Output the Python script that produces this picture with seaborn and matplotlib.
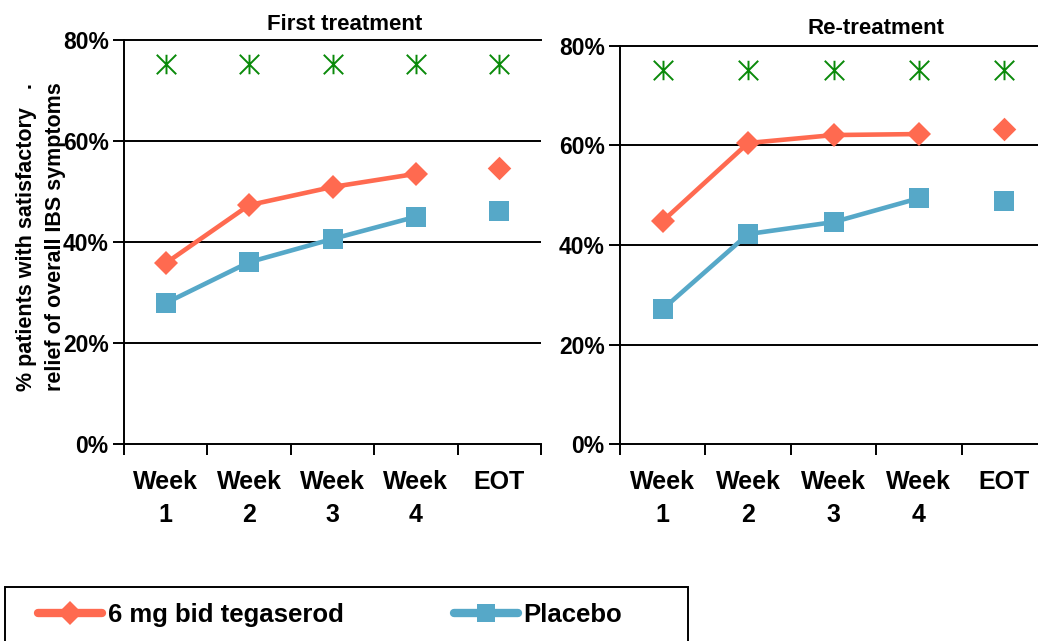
import numpy as np
import pandas as pd
import matplotlib
matplotlib.use("Agg")
import matplotlib.pyplot as plt
import seaborn as sns
from matplotlib.path import Path
from matplotlib.ticker import PercentFormatter
from matplotlib.patches import Rectangle
from matplotlib.lines import Line2D

# values
timepoints = ["Week\n1", "Week\n2", "Week\n3", "Week\n4", "EOT"]
first_tegaserod = [35.8, 47.3, 50.9, 53.5, 54.7]
first_placebo = [27.9, 36.0, 40.6, 45.0, 46.1]
re_tegaserod = [44.8, 60.5, 62.1, 62.3, 63.3]
re_placebo = [27.1, 42.2, 44.6, 49.4, 48.8]
signif_first = [75.2, 75.2, 75.2, 75.2, 75.2]
signif_re = [75.2, 75.2, 75.2, 75.2, 75.2]
titles = ["First treatment", "Re-treatment"]

TEG = "#FF6A50"
PLA = "#56A8C8"
GREEN = "#0A8A0A"

sns.set_style("white")
plt.rcParams['font.family'] = ['Liberation Sans', 'DejaVu Sans']
plt.rcParams['font.weight'] = 'bold'
plt.rcParams['text.color'] = 'black'
plt.rcParams['xtick.color'] = 'black'
plt.rcParams['ytick.color'] = 'black'

star = Path([(0, -1), (0, 1), (-1, -1), (1, 1), (-1, 1), (1, -1)],
            [Path.MOVETO, Path.LINETO] * 3)

W, H = 1038, 641
fig = plt.figure(figsize=(W / 100, H / 100), dpi=100)
ax1 = fig.add_axes([124 / W, 1 - 444 / H, 417 / W, 404 / H])
ax2 = fig.add_axes([620 / W, 1 - 444 / H, 427 / W, 398 / H])

panels = [(ax1, first_tegaserod, first_placebo, signif_first),
          (ax2, re_tegaserod, re_placebo, signif_re)]

pos = np.arange(len(timepoints))
for ax, teg, pla, sig in panels:
    df = pd.DataFrame({"pos": pos, "teg": teg, "pla": pla, "sig": sig})
    wk = df.iloc[:4]
    eot = df.iloc[4:]
    sns.lineplot(data=wk, x="pos", y="teg", ax=ax, color=TEG, lw=3.3,
                 marker="D", markersize=12, markeredgewidth=0)
    sns.lineplot(data=wk, x="pos", y="pla", ax=ax, color=PLA, lw=3.3,
                 marker="s", markersize=15, markeredgewidth=0)
    sns.scatterplot(data=eot, x="pos", y="teg", ax=ax, color=TEG, marker="D",
                    s=12 ** 2, linewidth=0)
    sns.scatterplot(data=eot, x="pos", y="pla", ax=ax, color=PLA, marker="s",
                    s=15 ** 2, linewidth=0)
    ax.plot(df["pos"], df["sig"], ls="none", marker=star, ms=14,
            mec=GREEN, mfc="none", mew=1.4)

    ax.set_xlim(-0.5, 4.5)
    ax.set_ylim(0, 80)
    ax.set_yticks([0, 20, 40, 60, 80])
    ax.yaxis.set_major_formatter(PercentFormatter(decimals=0))
    for yv in [20, 40, 60]:
        ax.axhline(yv, color="black", lw=1.4, zorder=0)
    ax.set_xticks(np.arange(-0.5, 5, 1.0))
    ax.set_xticklabels([])
    ax.set_xticks(pos, minor=True)
    ax.set_xticklabels(timepoints, minor=True, fontsize=18, fontweight="bold",
                       linespacing=1.45)
    ax.tick_params(axis="x", which="major", bottom=True, direction="out",
                   length=8, width=1.4, color="black")
    ax.tick_params(axis="x", which="minor", bottom=True, length=0, pad=19)
    ax.tick_params(axis="y", left=True, direction="out", length=8, width=1.4,
                   color="black", labelsize=16.5, pad=3)
    for lab in ax.get_yticklabels():
        lab.set_fontweight("bold")
    ax.set_xlabel("")
    ax.set_ylabel("")
    ax.spines["right"].set_visible(False)
    for s in ["left", "bottom", "top"]:
        ax.spines[s].set_color("black")
        ax.spines[s].set_linewidth(1.4)
    ax.patch.set_alpha(0)

fig.text(345 / W, 1 - 24 / H, titles[0], ha="center", va="center",
         fontsize=16, fontweight="bold")
fig.text(876 / W, 1 - 28 / H, titles[1], ha="center", va="center",
         fontsize=16, fontweight="bold")

fig.text(41 / W, 1 - 237 / H,
         "% patients with satisfactory   .\nrelief of overall IBS symptoms",
         rotation=90, ha="center", va="center", fontsize=15.5,
         fontweight="bold", multialignment="center", linespacing=1.5)

# legend box
fig.patches.append(Rectangle((5 / W, 1 - 660 / H), 683 / W, 73 / H,
                             transform=fig.transFigure, fill=False,
                             ec="black", lw=1.4))
handles = [Line2D([], [], color=TEG, lw=6, marker="D", ms=12, mew=0),
           Line2D([], [], color=PLA, lw=6, marker="s", ms=13, mew=0)]
fig.legend(handles, ["6 mg bid tegaserod", "Placebo"], loc="center left",
           bbox_to_anchor=(15 / W, 1 - 615 / H), ncol=2, frameon=False,
           prop={"size": 18.5, "weight": "bold"}, handlelength=2.5,
           handletextpad=0.2, columnspacing=4.3)

fig.savefig("out.png", dpi=100)
